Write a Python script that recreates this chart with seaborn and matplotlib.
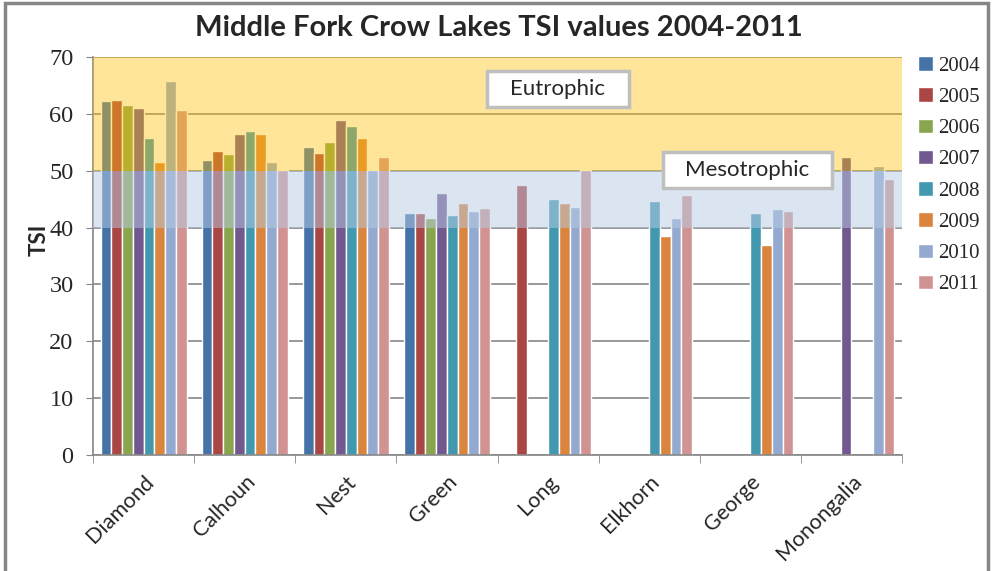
import matplotlib
matplotlib.use('Agg')
import matplotlib.pyplot as plt
import seaborn as sns
import pandas as pd
import numpy as np
from matplotlib.patches import Rectangle

lakes = ['Diamond', 'Calhoun', 'Nest', 'Green', 'Long', 'Elkhorn', 'George', 'Monongalia']
years = ['2004', '2005', '2006', '2007', '2008', '2009', '2010', '2011']
nan = np.nan

tsi_2004 = [62.2, 51.8, 54.1, 42.5, nan, nan, nan, nan]
tsi_2005 = [62.5, 53.4, 53.2, 42.5, 47.4, nan, nan, nan]
tsi_2006 = [61.5, 52.9, 55.0, 41.6, nan, nan, nan, nan]
tsi_2007 = [61.1, 56.4, 59.0, 46.0, nan, nan, nan, 52.5]
tsi_2008 = [55.8, 56.9, 57.8, 42.2, 45.1, 44.6, 42.5, nan]
tsi_2009 = [51.5, 56.5, 55.8, 44.4, 44.3, 38.5, 36.9, nan]
tsi_2010 = [65.7, 51.6, 50.2, 42.9, 43.7, 41.6, 43.2, 50.9]
tsi_2011 = [60.6, 50.2, 52.5, 43.4, 50.2, 45.8, 42.9, 48.5]

colors = ['#4572A7', '#AA4643', '#89A54E', '#71588F', '#4198AF', '#DB843D', '#93A9CF', '#D19392']

series = [tsi_2004, tsi_2005, tsi_2006, tsi_2007, tsi_2008, tsi_2009, tsi_2010, tsi_2011]
rows = []
for yr, vals in zip(years, series):
    for lake, v in zip(lakes, vals):
        rows.append({'Lake': lake, 'Year': yr, 'TSI': v})
df = pd.DataFrame(rows)

sns.set_style('white')
plt.rcParams['font.family'] = ['Lato', 'DejaVu Sans']

W, H = 992, 571
fig = plt.figure(figsize=(W / 100, H / 100), dpi=100)
ax = fig.add_axes([93 / W, 1 - 455 / H, (902 - 93) / W, (455 - 57) / H])

sns.barplot(data=df, x='Lake', y='TSI', hue='Year', hue_order=years, order=lakes,
            palette=colors, width=0.85, saturation=1, errorbar=None, ax=ax)

# trophic bands drawn over the bars
ax.axhspan(50, 70, color='#FFC000', alpha=0.4, lw=0, zorder=3)
ax.axhspan(40, 50, color='#B9CDE5', alpha=0.5, lw=0, zorder=3)

ax.set_ylim(0, 70)
ax.set_xlim(-0.5, len(lakes) - 0.5)
ax.set_yticks(range(0, 71, 10))
ax.yaxis.grid(True, color='#868686', lw=1.2)
ax.set_axisbelow(True)

for s in ['top', 'right']:
    ax.spines[s].set_visible(False)
for s in ['left', 'bottom']:
    ax.spines[s].set_color('#868686')
    ax.spines[s].set_linewidth(1.2)

ax.tick_params(axis='y', left=True, length=5, color='#868686', labelsize=17.5, pad=9)
for t in ax.get_yticklabels():
    t.set_family('Liberation Serif')

ax.set_xticks(np.arange(-0.5, len(lakes), 1.0), minor=True)
ax.tick_params(axis='x', which='minor', bottom=True, length=6, color='#868686')
ax.tick_params(axis='x', which='major', bottom=False, length=0, labelsize=15.5, pad=12)
ax.set_xticklabels(lakes, rotation=45, ha='right', rotation_mode='anchor')
ax.set_xlabel('')
ax.set_ylabel('TSI', fontsize=16, fontweight='bold')
ax.yaxis.set_label_coords(-0.053, 0.54)

fig.text(499 / W, 1 - 28 / H, 'Middle Fork Crow Lakes TSI values 2004-2011', ha='center', va='center',
         fontsize=21, fontweight='bold')

# label boxes for the bands
for label, x0, x1, y0, y1 in [('Eutrophic', 487, 629, 71, 107), ('Mesotrophic', 663, 832, 152, 188)]:
    fig.patches.append(Rectangle((x0 / W, 1 - y1 / H), (x1 - x0) / W, (y1 - y0) / H,
                                 transform=fig.transFigure, fc='white', ec='#BFBFBF', lw=2.5, zorder=5))
    fig.text((x0 + x1) / 2 / W, 1 - (y0 + y1) / 2 / H, label, ha='center', va='center',
             fontsize=16, zorder=6)

handles, labels = ax.get_legend_handles_labels()
ax.legend(handles, labels, loc='upper left', bbox_to_anchor=(918 / W, 1 - 56 / H),
          bbox_transform=fig.transFigure, frameon=False, borderpad=0, borderaxespad=0,
          handlelength=0.7, handleheight=0.7, handletextpad=0.25, labelspacing=0.56,
          prop={'family': 'Liberation Serif', 'size': 15})

fig.patches.append(Rectangle((5 / W, -0.01), 983 / W, 1 - 3 / H + 0.01, transform=fig.transFigure,
                             fill=False, ec='#868686', lw=2.5, clip_on=False))

fig.savefig('out.png', dpi=100)
